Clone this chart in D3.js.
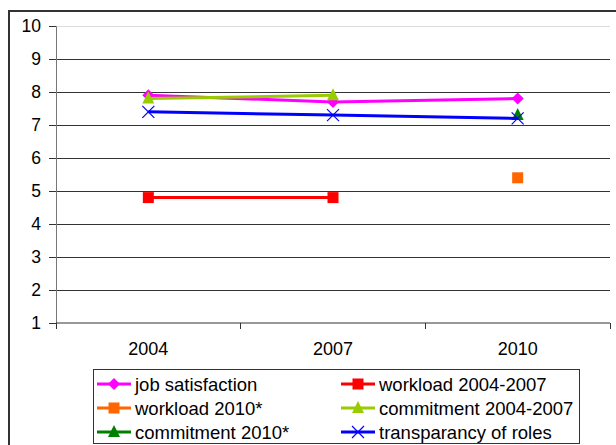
<!DOCTYPE html>
<html><head><meta charset="utf-8">
<script src="https://cdn.jsdelivr.net/npm/d3@7"></script>
<style>body{margin:0;background:#fff}svg{display:block;font-family:"Liberation Sans",Arial,sans-serif}</style>
</head><body>
<svg id="c" width="616" height="445"></svg>
<script>
const categories = ["2004","2007","2010"];
const yTicks = [1,2,3,4,5,6,7,8,9,10];
const jobSatisfaction = [7.9, 7.7, 7.8];
const workload0407 = [4.8, 4.8, null];
const workload2010 = [null, null, 5.4];
const commitment0407 = [7.8, 7.9, null];
const commitment2010 = [null, null, 7.3];
const transparency = [7.4, 7.3, 7.2];
const seriesNames = ["job satisfaction","workload 2004-2007","workload 2010*","commitment 2004-2007","commitment 2010*","transparancy of roles"];
const seriesColors = ["#FF00FF","#FF0000","#FF6600","#99CC00","#008000","#0000FF"];
const seriesMarkers = ["diamond","square","square","triangle","triangle","x"];
const seriesValues = [jobSatisfaction, workload0407, workload2010, commitment0407, commitment2010, transparency];

const FS = 18.5;
const svg = d3.select("#c");
const L = 56, R = 610, T = 26, B = 323;
const x = d3.scaleBand().domain(categories).range([L, R]).padding(0);
const y = d3.scaleLinear().domain([1, 10]).range([B, T]);

// outer frame
svg.append("rect").attr("x", 9).attr("y", 11).attr("width", 620).attr("height", 450)
  .attr("fill", "none").attr("stroke", "#333").attr("stroke-width", 2);

// gridlines
svg.append("g").selectAll("line").data(yTicks.filter(d => d > 1)).join("line")
  .attr("x1", L).attr("x2", R).attr("y1", d => y(d)).attr("y2", d => y(d))
  .attr("stroke", d => d === 10 ? "#ddd" : "#333").attr("stroke-width", 1).attr("shape-rendering", "crispEdges");

// y axis
const ya = svg.append("g").attr("transform", `translate(${L},0)`)
  .call(d3.axisLeft(y).tickValues(yTicks).tickSize(7).tickPadding(8).tickFormat(d3.format("d")));
ya.select(".domain").attr("stroke", "#777");
ya.selectAll(".tick line").attr("stroke", "#333");
ya.selectAll("text").style("font-size", "17.5px").attr("fill", "#000").style("font-family", "Liberation Sans, Arial, sans-serif");

// x axis
const xa = svg.append("g").attr("transform", `translate(0,${B})`)
  .call(d3.axisBottom(x).tickSize(0).tickPadding(19));
xa.select(".domain").attr("stroke", "#333").attr("d", `M${L},0H${R}`);
xa.selectAll("text").style("font-size", "18px").attr("fill", "#000").style("font-family", "Liberation Sans, Arial, sans-serif");
// category boundary ticks
const bounds = categories.map(c => x(c)).concat([x(categories[categories.length-1]) + x.bandwidth()]);
svg.append("g").selectAll("line").data(bounds).join("line")
  .attr("x1", d => d).attr("x2", d => d).attr("y1", B).attr("y2", B + 6)
  .attr("stroke", "#333").attr("shape-rendering", "crispEdges");

const cx = c => x(c) + x.bandwidth() / 2;

function marker(g, type, color, px, py) {
  if (type === "diamond") {
    g.append("path").attr("d", `M${px},${py-6}L${px+6},${py}L${px},${py+6}L${px-6},${py}Z`).attr("fill", color);
  } else if (type === "square") {
    g.append("rect").attr("x", px - 5.5).attr("y", py - 5.5).attr("width", 11).attr("height", 11).attr("fill", color);
  } else if (type === "triangle") {
    g.append("path").attr("d", `M${px},${py-7}L${px+6},${py+5}L${px-6},${py+5}Z`).attr("fill", color);
  } else if (type === "x") {
    g.append("path").attr("d", `M${px-6},${py-6}L${px+6},${py+6}M${px+6},${py-6}L${px-6},${py+6}`)
      .attr("stroke", color).attr("stroke-width", 1.2).attr("fill", "none");
  }
}

const line = d3.line().defined(d => d.v != null).x(d => cx(d.c)).y(d => y(d.v));
const plot = svg.append("g");
seriesValues.forEach((vals, i) => {
  const pts = categories.map((c, j) => ({c, v: vals[j]}));
  plot.append("path").datum(pts).attr("d", line).attr("fill", "none")
    .attr("stroke", seriesColors[i]).attr("stroke-width", 3);
  pts.filter(p => p.v != null).forEach(p => marker(plot, seriesMarkers[i], seriesColors[i], cx(p.c), y(p.v)));
});

// legend
const lg = svg.append("g");
lg.append("rect").attr("x", 93.5).attr("y", 369.5).attr("width", 486).attr("height", 74)
  .attr("fill", "#fff").attr("stroke", "#333").attr("stroke-width", 1);
const rowsY = [384, 408, 432];
const colsX = [97, 341];
seriesNames.forEach((name, i) => {
  const col = i % 2, row = Math.floor(i / 2);
  const lx = colsX[col], ly = rowsY[row];
  lg.append("line").attr("x1", lx).attr("x2", lx + 34).attr("y1", ly).attr("y2", ly)
    .attr("stroke", seriesColors[i]).attr("stroke-width", 3);
  marker(lg, seriesMarkers[i], seriesColors[i], lx + 17, ly);
  lg.append("text").attr("x", lx + 38).attr("y", ly + 6.5).style("font-size", FS + "px").attr("fill", "#000").text(name);
});
</script>
</body></html>
